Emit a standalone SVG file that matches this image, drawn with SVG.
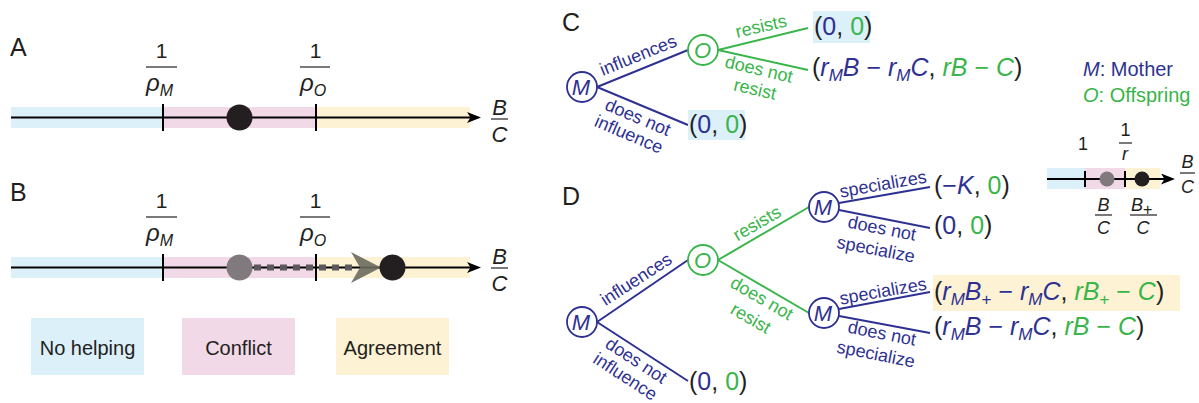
<svg xmlns="http://www.w3.org/2000/svg" width="1199" height="403" viewBox="0 0 1199 403">
<style>
text{font-family:"Liberation Sans",Arial,sans-serif;fill:#231f20}
.lbl{font-size:25px}
.i{font-style:italic}
.bl{fill:#2e3192}
.gr{fill:#39b54a}
.tl{font-size:18px;text-anchor:middle}
.pay{font-size:25px}
.sub{font-size:16px}
.ps{font-size:17px}
.ax{stroke:#000;stroke-width:2;fill:none}
.tick{stroke:#000;stroke-width:2}
.fb{stroke:#231f20;stroke-width:1.2}
.eb{stroke:#2e3192;stroke-width:2;fill:none}
.eg{stroke:#39b54a;stroke-width:2;fill:none}
.nb{fill:#fff;stroke:#2e3192;stroke-width:1.8}
.ng{fill:#fff;stroke:#39b54a;stroke-width:1.8}
.nt{font-size:22px;font-style:italic;text-anchor:middle}
.f1{font-size:21px;text-anchor:middle}
.rho{font-size:24px;font-style:italic}
.fr{font-size:22px;font-style:italic;text-anchor:middle}
.sm{font-size:18px;text-anchor:middle}
.leg{font-size:20px;text-anchor:middle}
.key{font-size:20px}
.bB{fill:#dcf0fa}.bP{fill:#f2d9e8}.bY{fill:#fdf3d4}
</style>
<defs>
<marker id="ah" markerWidth="15" markerHeight="12" refX="4" refY="5.5" orient="auto" markerUnits="userSpaceOnUse"><path d="M0,0 L14,5.5 L0,11 L3.5,5.5 Z" fill="#000"/></marker>
</defs>

<g id="panelA">
<text class="lbl" x="10" y="56">A</text>
<rect class="bB" x="11" y="107" width="152" height="21"/>
<rect class="bP" x="163" y="107" width="153" height="21"/>
<rect class="bY" x="316" y="107" width="154" height="21"/>
<line class="ax" x1="11" y1="117.5" x2="471" y2="117.5" marker-end="url(#ah)"/>
<line class="tick" x1="163" y1="104" x2="163" y2="131"/>
<line class="tick" x1="316" y1="104" x2="316" y2="131"/>
<circle cx="239.5" cy="117.5" r="13" fill="#231f20"/>
<text class="f1" x="161.5" y="58">1</text>
<line class="fb" x1="146" y1="67" x2="177" y2="67"/>
<text class="rho" x="146" y="91">ρ<tspan class="sub" dy="5">M</tspan></text>
<text class="f1" x="315.5" y="58">1</text>
<line class="fb" x1="300" y1="67" x2="330" y2="67"/>
<text class="rho" x="300" y="91">ρ<tspan class="sub" dy="5">O</tspan></text>
<text class="fr" x="499.5" y="115">B</text>
<line class="fb" x1="491" y1="119" x2="508" y2="119"/>
<text class="fr" x="499.5" y="142">C</text>
</g>

<g id="panelB">
<text class="lbl" x="10" y="201">B</text>
<rect class="bB" x="11" y="257" width="152" height="21"/>
<rect class="bP" x="163" y="257" width="153" height="21"/>
<rect class="bY" x="316" y="257" width="154" height="21"/>
<line class="ax" x1="11" y1="267.5" x2="471" y2="267.5" marker-end="url(#ah)"/>
<line class="tick" x1="163" y1="254" x2="163" y2="281"/>
<line class="tick" x1="316" y1="254" x2="316" y2="281"/>
<circle cx="239.5" cy="267.5" r="13" fill="#807a7e"/>
<line x1="254" y1="267.5" x2="356" y2="267.5" stroke="#5c575b" stroke-width="6" stroke-dasharray="7 6"/>
<path d="M351,252 L381,267.5 L351,283 L360,267.5 Z" fill="#6a6a5e" opacity="0.9"/>
<circle cx="392.5" cy="267.5" r="13" fill="#231f20"/>
<text class="f1" x="161.5" y="208">1</text>
<line class="fb" x1="146" y1="217" x2="177" y2="217"/>
<text class="rho" x="146" y="241">ρ<tspan class="sub" dy="5">M</tspan></text>
<text class="f1" x="315.5" y="208">1</text>
<line class="fb" x1="300" y1="217" x2="330" y2="217"/>
<text class="rho" x="300" y="241">ρ<tspan class="sub" dy="5">O</tspan></text>
<text class="fr" x="499.5" y="264">B</text>
<line class="fb" x1="491" y1="268" x2="508" y2="268"/>
<text class="fr" x="499.5" y="291">C</text>
</g>

<g id="legend">
<rect class="bB" x="31" y="318" width="113" height="57"/>
<text class="leg" x="87.5" y="355">No helping</text>
<rect class="bP" x="182" y="318" width="113" height="57"/>
<text class="leg" x="238.5" y="355">Conflict</text>
<rect class="bY" x="336" y="318" width="113" height="57"/>
<text class="leg" x="392.5" y="355">Agreement</text>
</g>

<g id="connectors">
<line class="eb" x1="597" y1="87" x2="688" y2="50"/>
<line class="eb" x1="597" y1="87" x2="688" y2="125"/>
<line class="eg" x1="718" y1="50" x2="808" y2="28"/>
<line class="eg" x1="718" y1="50" x2="808" y2="70"/>
<text class="tl bl" transform="translate(640.4,60.8) rotate(-22)">influences</text>
<text class="tl bl" transform="translate(635.5,122.8) rotate(23)">does not</text>
<text class="tl bl" transform="translate(626.5,139.8) rotate(23)">influence</text>
<text class="tl gr" transform="translate(762.4,32.1) rotate(-13)">resists</text>
<text class="tl gr" transform="translate(757.6,75.1) rotate(13)">does not</text>
<text class="tl gr" transform="translate(753.6,95.1) rotate(13)">resist</text>

<line class="eb" x1="597" y1="322" x2="688" y2="260"/>
<line class="eb" x1="597" y1="322" x2="688" y2="381"/>
<line class="eg" x1="718" y1="260" x2="809" y2="207"/>
<line class="eg" x1="718" y1="260" x2="809" y2="313"/>
<line class="eb" x1="839" y1="203" x2="930" y2="187"/>
<line class="eb" x1="839" y1="210" x2="930" y2="228"/>
<line class="eb" x1="839" y1="309" x2="930" y2="292"/>
<line class="eb" x1="839" y1="316" x2="930" y2="333"/>
<text class="tl bl" transform="translate(639.4,284.3) rotate(-33)">influences</text>
<text class="tl bl" transform="translate(633,365.5) rotate(33)">does not</text>
<text class="tl bl" transform="translate(622,381.5) rotate(33)">influence</text>
<text class="tl gr" transform="translate(760,228.5) rotate(-30)">resists</text>
<text class="tl gr" transform="translate(758.8,303.5) rotate(30)">does not</text>
<text class="tl gr" transform="translate(747.8,323.5) rotate(30)">resist</text>
<text class="tl bl" transform="translate(884,190) rotate(-10)">specializes</text>
<text class="tl bl" transform="translate(880.8,234.2) rotate(11)">does not</text>
<text class="tl bl" transform="translate(874.8,255.2) rotate(11)">specialize</text>
<text class="tl bl" transform="translate(884,297) rotate(-10)">specializes</text>
<text class="tl bl" transform="translate(880.8,339.2) rotate(11)">does not</text>
<text class="tl bl" transform="translate(874.8,360) rotate(11)">specialize</text>
</g>

<g id="panelC">
<text class="lbl" x="562" y="31">C</text>
</g>
<g id="nodeC-M"><circle class="nb" cx="582" cy="87" r="15"/><text class="nt bl" x="581" y="95">M</text></g>
<g id="nodeC-O"><circle class="ng" cx="703" cy="50" r="15"/><text class="nt gr" x="702.5" y="58">O</text></g>
<g id="payC1">
<rect class="bB" x="813" y="11" width="57" height="32"/>
<text class="pay" x="814" y="35">(<tspan class="bl">0</tspan>,<tspan class="gr"> 0</tspan>)</text>
</g>
<g id="payC2">
<text class="pay" x="812" y="76">(<tspan class="i bl">r</tspan><tspan class="i bl ps" dy="5">M</tspan><tspan class="i bl" dy="-5">B</tspan><tspan class="bl"> − </tspan><tspan class="i bl">r</tspan><tspan class="i bl ps" dy="5">M</tspan><tspan class="i bl" dy="-5">C</tspan>, <tspan class="i gr">rB</tspan><tspan class="gr"> − </tspan><tspan class="i gr">C</tspan>)</text>
</g>
<g id="payC3">
<rect class="bB" x="688" y="110" width="57" height="30"/>
<text class="pay" x="689" y="133">(<tspan class="bl">0</tspan>,<tspan class="gr"> 0</tspan>)</text>
</g>

<g id="key">
<text x="1083" y="76" class="key bl"><tspan class="i">M</tspan>: Mother</text>
<text x="1083" y="102" class="key gr"><tspan class="i">O</tspan>: Offspring</text>
</g>

<g id="inset">
<rect class="bB" x="1047" y="168" width="38" height="21"/>
<rect class="bP" x="1085" y="168" width="40" height="21"/>
<rect class="bY" x="1125" y="168" width="35" height="21"/>
<line class="ax" x1="1047" y1="179" x2="1165" y2="179" marker-end="url(#ah)"/>
<line class="tick" x1="1085" y1="171" x2="1085" y2="187"/>
<line class="tick" x1="1125" y1="171" x2="1125" y2="187"/>
<circle cx="1107" cy="179" r="7.5" fill="#807a7e"/>
<circle cx="1142" cy="179" r="7.5" fill="#231f20"/>
<text class="sm" x="1083" y="150">1</text>
<text class="sm" x="1125.5" y="136">1</text>
<line class="fb" x1="1119" y1="143" x2="1132" y2="143"/>
<text class="sm i" x="1125" y="160">r</text>
<text class="sm i" x="1187.5" y="168">B</text>
<line class="fb" x1="1180" y1="173" x2="1195" y2="173"/>
<text class="sm i" x="1187.5" y="193">C</text>
<text class="sm i" x="1103.5" y="211">B</text>
<line class="fb" x1="1095" y1="215" x2="1112" y2="215"/>
<text class="sm i" x="1103.5" y="234">C</text>
<text class="sm i" x="1131" y="211" style="text-anchor:start">B<tspan class="sub" font-style="normal" dy="4">+</tspan></text>
<line class="fb" x1="1130" y1="215" x2="1157" y2="215"/>
<text class="sm i" x="1143" y="234">C</text>
</g>

<g id="panelD">
<text class="lbl" x="562" y="205">D</text>
</g>
<g id="nodeD-M"><circle class="nb" cx="582" cy="322" r="15"/><text class="nt bl" x="581" y="330">M</text></g>
<g id="nodeD-O"><circle class="ng" cx="703" cy="260" r="15"/><text class="nt gr" x="702.5" y="268">O</text></g>
<g id="nodeD-M1"><circle class="nb" cx="824" cy="207" r="15"/><text class="nt bl" x="823" y="215">M</text></g>
<g id="nodeD-M2"><circle class="nb" cx="824" cy="313" r="15"/><text class="nt bl" x="823" y="321">M</text></g>
<g id="payD1">
<text class="pay" x="934" y="194">(<tspan class="bl">−</tspan><tspan class="i bl">K</tspan>,<tspan class="gr"> 0</tspan>)</text>
</g>
<g id="payD2">
<text class="pay" x="934" y="234">(<tspan class="bl">0</tspan>,<tspan class="gr"> 0</tspan>)</text>
</g>
<g id="payD3">
<rect class="bY" x="933" y="275" width="247" height="36"/>
<text class="pay" x="934" y="300">(<tspan class="i bl">r</tspan><tspan class="i bl ps" dy="5">M</tspan><tspan class="i bl" dy="-5">B</tspan><tspan class="bl ps" dy="5">+</tspan><tspan class="bl" dy="-5"> − </tspan><tspan class="i bl">r</tspan><tspan class="i bl ps" dy="5">M</tspan><tspan class="i bl" dy="-5">C</tspan>, <tspan class="i gr">rB</tspan><tspan class="gr ps" dy="5">+</tspan><tspan class="gr" dy="-5"> − </tspan><tspan class="i gr">C</tspan>)</text>
</g>
<g id="payD4">
<text class="pay" x="934" y="335">(<tspan class="i bl">r</tspan><tspan class="i bl ps" dy="5">M</tspan><tspan class="i bl" dy="-5">B</tspan><tspan class="bl"> − </tspan><tspan class="i bl">r</tspan><tspan class="i bl ps" dy="5">M</tspan><tspan class="i bl" dy="-5">C</tspan>, <tspan class="i gr">rB</tspan><tspan class="gr"> − </tspan><tspan class="i gr">C</tspan>)</text>
</g>
<g id="payD5">
<text class="pay" x="689" y="390">(<tspan class="bl">0</tspan>,<tspan class="gr"> 0</tspan>)</text>
</g>
</svg>
